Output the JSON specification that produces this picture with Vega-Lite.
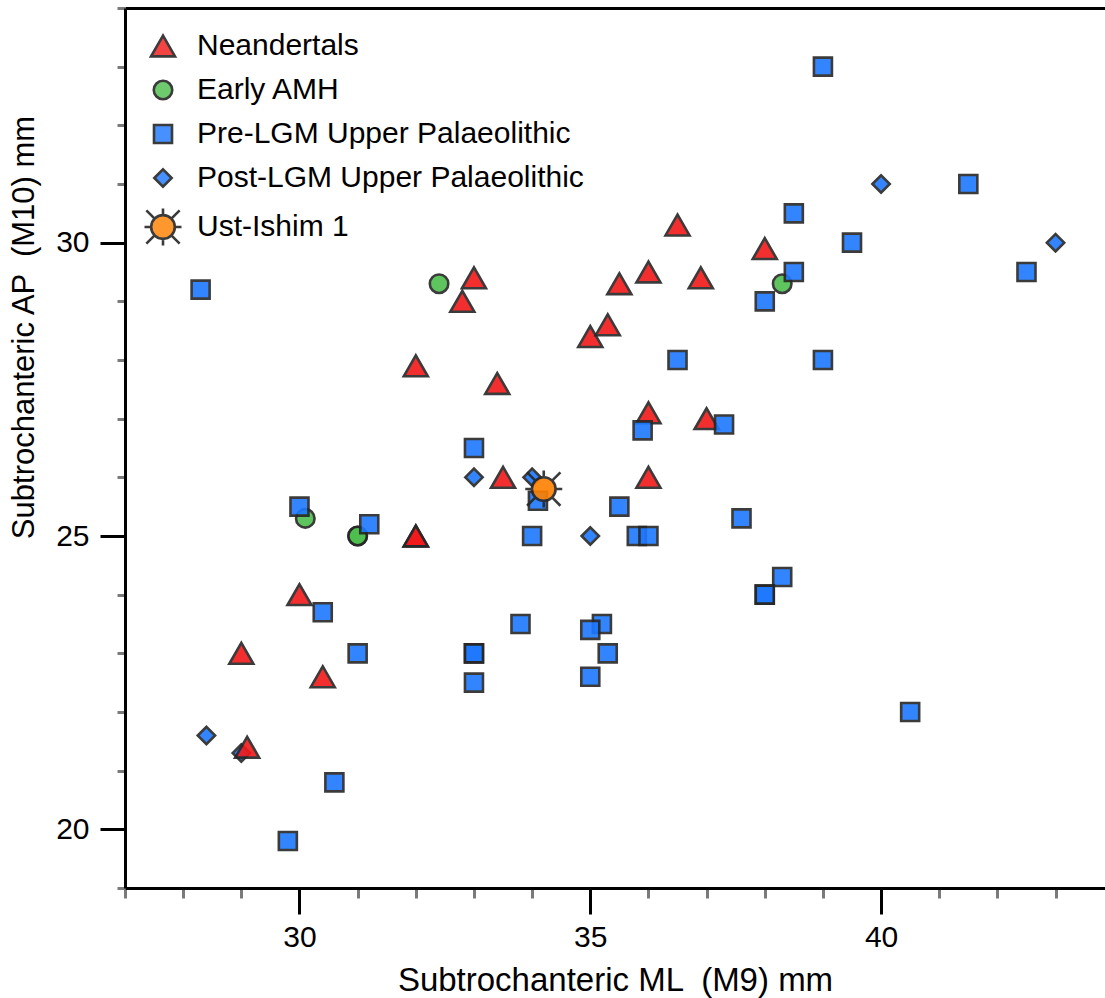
{
  "$schema": "https://vega.github.io/schema/vega-lite/v6.json",
  "width": 980,
  "height": 880,
  "autosize": {"type": "none"},
  "padding": {"left": 125, "top": 8, "right": 0, "bottom": 110},
  "background": "white",
  "config": {
    "view": {"stroke": null},
    "font": "Liberation Sans",
    "axis": {"grid": false, "labelFont": "Liberation Sans", "titleFont": "Liberation Sans", "labelColor": "#000", "titleColor": "#000", "titleFontWeight": "normal"}
  },
  "data": {
    "values": [
      {"g": "Post-LGM Upper Palaeolithic", "x": 33.0, "y": 26.0},
      {"g": "Post-LGM Upper Palaeolithic", "x": 34.0, "y": 26.0},
      {"g": "Post-LGM Upper Palaeolithic", "x": 35.0, "y": 25.0},
      {"g": "Post-LGM Upper Palaeolithic", "x": 40.0, "y": 31.0},
      {"g": "Post-LGM Upper Palaeolithic", "x": 43.0, "y": 30.0},
      {"g": "Post-LGM Upper Palaeolithic", "x": 28.4, "y": 21.6},
      {"g": "Post-LGM Upper Palaeolithic", "x": 29.0, "y": 21.3},
      {"g": "Early AMH", "x": 32.4, "y": 29.3},
      {"g": "Early AMH", "x": 38.3, "y": 29.3},
      {"g": "Early AMH", "x": 30.1, "y": 25.3},
      {"g": "Early AMH", "x": 31.0, "y": 25.0},
      {"g": "Early AMH", "x": 31.0, "y": 25.0},
      {"g": "Neandertals", "x": 32.0, "y": 25.0},
      {"g": "Neandertals", "x": 32.0, "y": 25.0},
      {"g": "Neandertals", "x": 32.0, "y": 27.9},
      {"g": "Neandertals", "x": 32.8, "y": 29.0},
      {"g": "Neandertals", "x": 33.0, "y": 29.4},
      {"g": "Neandertals", "x": 33.4, "y": 27.6},
      {"g": "Neandertals", "x": 33.5, "y": 26.0},
      {"g": "Neandertals", "x": 35.0, "y": 28.4},
      {"g": "Neandertals", "x": 35.3, "y": 28.6},
      {"g": "Neandertals", "x": 35.5, "y": 29.3},
      {"g": "Neandertals", "x": 36.0, "y": 29.5},
      {"g": "Neandertals", "x": 36.5, "y": 30.3},
      {"g": "Neandertals", "x": 36.0, "y": 27.1},
      {"g": "Neandertals", "x": 36.0, "y": 26.0},
      {"g": "Neandertals", "x": 37.0, "y": 27.0},
      {"g": "Neandertals", "x": 36.9, "y": 29.4},
      {"g": "Neandertals", "x": 38.0, "y": 29.9},
      {"g": "Neandertals", "x": 30.0, "y": 24.0},
      {"g": "Neandertals", "x": 29.0, "y": 23.0},
      {"g": "Neandertals", "x": 30.4, "y": 22.6},
      {"g": "Neandertals", "x": 29.1, "y": 21.4},
      {"g": "Pre-LGM Upper Palaeolithic", "x": 28.3, "y": 29.2},
      {"g": "Pre-LGM Upper Palaeolithic", "x": 39.0, "y": 33.0},
      {"g": "Pre-LGM Upper Palaeolithic", "x": 38.5, "y": 30.5},
      {"g": "Pre-LGM Upper Palaeolithic", "x": 39.5, "y": 30.0},
      {"g": "Pre-LGM Upper Palaeolithic", "x": 41.5, "y": 31.0},
      {"g": "Pre-LGM Upper Palaeolithic", "x": 42.5, "y": 29.5},
      {"g": "Pre-LGM Upper Palaeolithic", "x": 38.5, "y": 29.5},
      {"g": "Pre-LGM Upper Palaeolithic", "x": 38.0, "y": 29.0},
      {"g": "Pre-LGM Upper Palaeolithic", "x": 36.5, "y": 28.0},
      {"g": "Pre-LGM Upper Palaeolithic", "x": 39.0, "y": 28.0},
      {"g": "Pre-LGM Upper Palaeolithic", "x": 35.9, "y": 26.8},
      {"g": "Pre-LGM Upper Palaeolithic", "x": 37.3, "y": 26.9},
      {"g": "Pre-LGM Upper Palaeolithic", "x": 33.0, "y": 26.5},
      {"g": "Pre-LGM Upper Palaeolithic", "x": 34.1, "y": 25.6},
      {"g": "Pre-LGM Upper Palaeolithic", "x": 35.5, "y": 25.5},
      {"g": "Pre-LGM Upper Palaeolithic", "x": 34.0, "y": 25.0},
      {"g": "Pre-LGM Upper Palaeolithic", "x": 35.8, "y": 25.0},
      {"g": "Pre-LGM Upper Palaeolithic", "x": 36.0, "y": 25.0},
      {"g": "Pre-LGM Upper Palaeolithic", "x": 37.6, "y": 25.3},
      {"g": "Pre-LGM Upper Palaeolithic", "x": 38.3, "y": 24.3},
      {"g": "Pre-LGM Upper Palaeolithic", "x": 38.0, "y": 24.0},
      {"g": "Pre-LGM Upper Palaeolithic", "x": 38.0, "y": 24.0},
      {"g": "Pre-LGM Upper Palaeolithic", "x": 33.8, "y": 23.5},
      {"g": "Pre-LGM Upper Palaeolithic", "x": 35.2, "y": 23.5},
      {"g": "Pre-LGM Upper Palaeolithic", "x": 35.0, "y": 23.4},
      {"g": "Pre-LGM Upper Palaeolithic", "x": 35.3, "y": 23.0},
      {"g": "Pre-LGM Upper Palaeolithic", "x": 35.0, "y": 22.6},
      {"g": "Pre-LGM Upper Palaeolithic", "x": 33.0, "y": 23.0},
      {"g": "Pre-LGM Upper Palaeolithic", "x": 33.0, "y": 23.0},
      {"g": "Pre-LGM Upper Palaeolithic", "x": 33.0, "y": 22.5},
      {"g": "Pre-LGM Upper Palaeolithic", "x": 30.0, "y": 25.5},
      {"g": "Pre-LGM Upper Palaeolithic", "x": 31.2, "y": 25.2},
      {"g": "Pre-LGM Upper Palaeolithic", "x": 30.4, "y": 23.7},
      {"g": "Pre-LGM Upper Palaeolithic", "x": 31.0, "y": 23.0},
      {"g": "Pre-LGM Upper Palaeolithic", "x": 30.6, "y": 20.8},
      {"g": "Pre-LGM Upper Palaeolithic", "x": 29.8, "y": 19.8},
      {"g": "Pre-LGM Upper Palaeolithic", "x": 40.5, "y": 22.0},
      {"g": "Ust-Ishim 1", "x": 34.2, "y": 25.8}
    ]
  },
  "resolve": {"axis": {"x": "independent", "y": "independent"}},
  "layer": [
    {
      "mark": {"type": "point", "opacity": 0},
      "encoding": {
        "x": {"field": "x", "type": "quantitative", "scale": {"domain": [27, 43.85], "nice": false, "zero": false},
          "axis": {"orient": "bottom", "values": [27, 28, 29, 31, 32, 33, 34, 36, 37, 38, 39, 41, 42, 43], "tickSize": 10, "tickWidth": 3, "tickColor": "#7a7a7a", "labels": false, "domain": false, "title": null}},
        "y": {"field": "y", "type": "quantitative", "scale": {"domain": [19, 34], "nice": false, "zero": false},
          "axis": {"orient": "left", "values": [19, 21, 22, 23, 24, 26, 27, 28, 29, 31, 32, 33, 34], "tickSize": 8, "tickWidth": 3, "tickColor": "#7a7a7a", "labels": false, "domain": false, "title": null}}
      }
    },
    {
      "mark": {"type": "point", "opacity": 0},
      "encoding": {
        "x": {"field": "x", "type": "quantitative",
          "axis": {"orient": "top", "ticks": false, "labels": false, "domain": true, "domainColor": "#000", "domainWidth": 3, "title": null}},
        "y": {"field": "y", "type": "quantitative", "axis": null}
      }
    },
    {
      "mark": {"type": "point", "filled": true, "opacity": 0.9, "stroke": "#262626", "strokeWidth": 2.6},
      "encoding": {
        "x": {"field": "x", "type": "quantitative",
          "axis": {"orient": "bottom", "values": [30, 35, 40], "tickSize": 26, "tickWidth": 3, "tickColor": "#000", "domainColor": "#000", "domainWidth": 3, "labelFontSize": 30, "labelPadding": 8, "title": "Subtrochanteric ML \u00a0(M9) mm", "titleFontSize": 33, "titleY": 92, "titleBaseline": "middle"}},
        "y": {"field": "y", "type": "quantitative",
          "axis": {"orient": "left", "values": [20, 25, 30], "tickSize": 25, "tickWidth": 3, "tickColor": "#000", "domainColor": "#000", "domainWidth": 3, "labelFontSize": 30, "labelPadding": 11, "title": "Subtrochanteric AP \u00a0(M10) mm", "titleFontSize": 31, "titleX": -101, "titleY": 319, "titleAngle": 270, "titleAlign": "center", "titleBaseline": "middle"}},
        "color": {"field": "g", "type": "nominal",
          "scale": {"domain": ["Neandertals", "Early AMH", "Pre-LGM Upper Palaeolithic", "Post-LGM Upper Palaeolithic", "Ust-Ishim 1"], "range": ["#F21818", "#4DBF4D", "#1C78FF", "#1C78FF", "#FF8000"]},
          "legend": {"orient": "none", "legendX": 18, "legendY": 23, "title": null, "labelFontSize": 30, "labelFont": "Liberation Sans", "labelColor": "#000", "labelLimit": 600, "gridAlign": "all", "columns": 1, "rowPadding": -4, "labelOffset": 14, "padding": 0, "symbolStrokeWidth": 2.6, "symbolStrokeColor": "#262626", "symbolOpacity": 0.9}},
        "shape": {"field": "g", "type": "nominal",
          "scale": {"domain": ["Neandertals", "Early AMH", "Pre-LGM Upper Palaeolithic", "Post-LGM Upper Palaeolithic", "Ust-Ishim 1"], "range": ["triangle-up", "circle", "square", "diamond", "M0.64,0A0.64,0.64,0,1,1,-0.64,0A0.64,0.64,0,1,1,0.64,0Z M0.7,0L1,0 M-0.7,0L-1,0 M0,0.7L0,1 M0,-0.7L0,-1 M0.48,0.48L0.9,0.9 M-0.48,0.48L-0.9,0.9 M0.48,-0.48L0.9,-0.9 M-0.48,-0.48L-0.9,-0.9"]}},
        "size": {"field": "g", "type": "nominal",
          "scale": {"type": "ordinal", "domain": ["Neandertals", "Early AMH", "Pre-LGM Upper Palaeolithic", "Post-LGM Upper Palaeolithic", "Ust-Ishim 1"], "range": [576, 342, 324, 300, 1369]}}
      }
    }
  ]
}
